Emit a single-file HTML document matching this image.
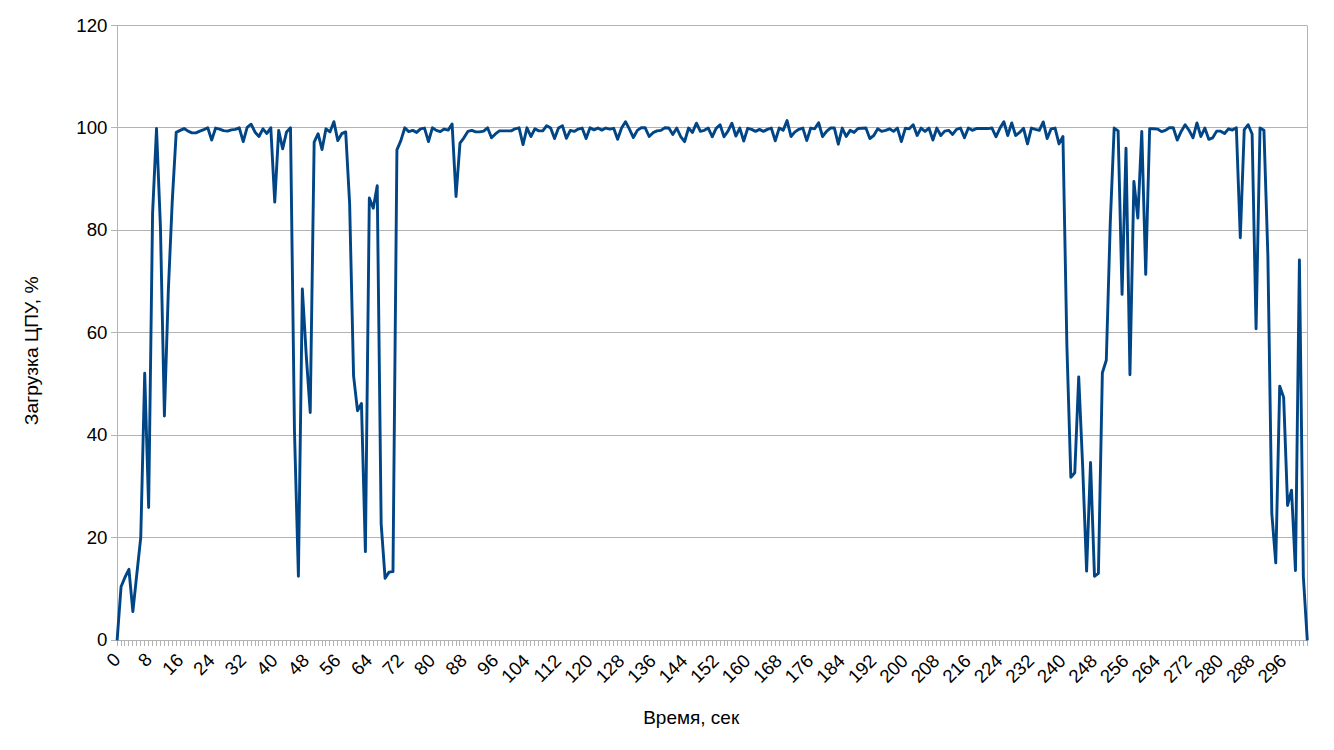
<!DOCTYPE html>
<html><head><meta charset="utf-8"><title>chart</title>
<style>
html,body{margin:0;padding:0;background:#fff;}
body{width:1334px;height:750px;overflow:hidden;font-family:"Liberation Sans",sans-serif;}
svg{display:block;}
text{font-family:"Liberation Sans",sans-serif;fill:#000;}
</style></head><body>
<svg width="1334" height="750" viewBox="0 0 1334 750">
<rect x="0" y="0" width="1334" height="750" fill="#ffffff"/>
<g fill="#b3b3b3" shape-rendering="crispEdges">
<rect x="111" y="25" width="1197" height="1"/>
<rect x="111" y="127" width="1197" height="1"/>
<rect x="111" y="230" width="1197" height="1"/>
<rect x="111" y="332" width="1197" height="1"/>
<rect x="111" y="435" width="1197" height="1"/>
<rect x="111" y="537" width="1197" height="1"/>
<rect x="111" y="640" width="1197" height="1"/>
<rect x="117" y="25" width="1" height="616"/>
<rect x="1307" y="25" width="1" height="616"/>
<rect x="117" y="640" width="1" height="6"/><rect x="121" y="640" width="1" height="6"/><rect x="124" y="640" width="1" height="6"/><rect x="128" y="640" width="1" height="6"/><rect x="132" y="640" width="1" height="6"/><rect x="136" y="640" width="1" height="6"/><rect x="140" y="640" width="1" height="6"/><rect x="144" y="640" width="1" height="6"/><rect x="148" y="640" width="1" height="6"/><rect x="152" y="640" width="1" height="6"/><rect x="156" y="640" width="1" height="6"/><rect x="160" y="640" width="1" height="6"/><rect x="164" y="640" width="1" height="6"/><rect x="168" y="640" width="1" height="6"/><rect x="172" y="640" width="1" height="6"/><rect x="176" y="640" width="1" height="6"/><rect x="180" y="640" width="1" height="6"/><rect x="184" y="640" width="1" height="6"/><rect x="188" y="640" width="1" height="6"/><rect x="191" y="640" width="1" height="6"/><rect x="195" y="640" width="1" height="6"/><rect x="199" y="640" width="1" height="6"/><rect x="203" y="640" width="1" height="6"/><rect x="207" y="640" width="1" height="6"/><rect x="211" y="640" width="1" height="6"/><rect x="215" y="640" width="1" height="6"/><rect x="219" y="640" width="1" height="6"/><rect x="223" y="640" width="1" height="6"/><rect x="227" y="640" width="1" height="6"/><rect x="231" y="640" width="1" height="6"/><rect x="235" y="640" width="1" height="6"/><rect x="239" y="640" width="1" height="6"/><rect x="243" y="640" width="1" height="6"/><rect x="247" y="640" width="1" height="6"/><rect x="251" y="640" width="1" height="6"/><rect x="255" y="640" width="1" height="6"/><rect x="258" y="640" width="1" height="6"/><rect x="262" y="640" width="1" height="6"/><rect x="266" y="640" width="1" height="6"/><rect x="270" y="640" width="1" height="6"/><rect x="274" y="640" width="1" height="6"/><rect x="278" y="640" width="1" height="6"/><rect x="282" y="640" width="1" height="6"/><rect x="286" y="640" width="1" height="6"/><rect x="290" y="640" width="1" height="6"/><rect x="294" y="640" width="1" height="6"/><rect x="298" y="640" width="1" height="6"/><rect x="302" y="640" width="1" height="6"/><rect x="306" y="640" width="1" height="6"/><rect x="310" y="640" width="1" height="6"/><rect x="314" y="640" width="1" height="6"/><rect x="318" y="640" width="1" height="6"/><rect x="322" y="640" width="1" height="6"/><rect x="325" y="640" width="1" height="6"/><rect x="329" y="640" width="1" height="6"/><rect x="333" y="640" width="1" height="6"/><rect x="337" y="640" width="1" height="6"/><rect x="341" y="640" width="1" height="6"/><rect x="345" y="640" width="1" height="6"/><rect x="349" y="640" width="1" height="6"/><rect x="353" y="640" width="1" height="6"/><rect x="357" y="640" width="1" height="6"/><rect x="361" y="640" width="1" height="6"/><rect x="365" y="640" width="1" height="6"/><rect x="369" y="640" width="1" height="6"/><rect x="373" y="640" width="1" height="6"/><rect x="377" y="640" width="1" height="6"/><rect x="381" y="640" width="1" height="6"/><rect x="385" y="640" width="1" height="6"/><rect x="389" y="640" width="1" height="6"/><rect x="392" y="640" width="1" height="6"/><rect x="396" y="640" width="1" height="6"/><rect x="400" y="640" width="1" height="6"/><rect x="404" y="640" width="1" height="6"/><rect x="408" y="640" width="1" height="6"/><rect x="412" y="640" width="1" height="6"/><rect x="416" y="640" width="1" height="6"/><rect x="420" y="640" width="1" height="6"/><rect x="424" y="640" width="1" height="6"/><rect x="428" y="640" width="1" height="6"/><rect x="432" y="640" width="1" height="6"/><rect x="436" y="640" width="1" height="6"/><rect x="440" y="640" width="1" height="6"/><rect x="444" y="640" width="1" height="6"/><rect x="448" y="640" width="1" height="6"/><rect x="452" y="640" width="1" height="6"/><rect x="456" y="640" width="1" height="6"/><rect x="459" y="640" width="1" height="6"/><rect x="463" y="640" width="1" height="6"/><rect x="467" y="640" width="1" height="6"/><rect x="471" y="640" width="1" height="6"/><rect x="475" y="640" width="1" height="6"/><rect x="479" y="640" width="1" height="6"/><rect x="483" y="640" width="1" height="6"/><rect x="487" y="640" width="1" height="6"/><rect x="491" y="640" width="1" height="6"/><rect x="495" y="640" width="1" height="6"/><rect x="499" y="640" width="1" height="6"/><rect x="503" y="640" width="1" height="6"/><rect x="507" y="640" width="1" height="6"/><rect x="511" y="640" width="1" height="6"/><rect x="515" y="640" width="1" height="6"/><rect x="519" y="640" width="1" height="6"/><rect x="523" y="640" width="1" height="6"/><rect x="526" y="640" width="1" height="6"/><rect x="530" y="640" width="1" height="6"/><rect x="534" y="640" width="1" height="6"/><rect x="538" y="640" width="1" height="6"/><rect x="542" y="640" width="1" height="6"/><rect x="546" y="640" width="1" height="6"/><rect x="550" y="640" width="1" height="6"/><rect x="554" y="640" width="1" height="6"/><rect x="558" y="640" width="1" height="6"/><rect x="562" y="640" width="1" height="6"/><rect x="566" y="640" width="1" height="6"/><rect x="570" y="640" width="1" height="6"/><rect x="574" y="640" width="1" height="6"/><rect x="578" y="640" width="1" height="6"/><rect x="582" y="640" width="1" height="6"/><rect x="586" y="640" width="1" height="6"/><rect x="590" y="640" width="1" height="6"/><rect x="593" y="640" width="1" height="6"/><rect x="597" y="640" width="1" height="6"/><rect x="601" y="640" width="1" height="6"/><rect x="605" y="640" width="1" height="6"/><rect x="609" y="640" width="1" height="6"/><rect x="613" y="640" width="1" height="6"/><rect x="617" y="640" width="1" height="6"/><rect x="621" y="640" width="1" height="6"/><rect x="625" y="640" width="1" height="6"/><rect x="629" y="640" width="1" height="6"/><rect x="633" y="640" width="1" height="6"/><rect x="637" y="640" width="1" height="6"/><rect x="641" y="640" width="1" height="6"/><rect x="645" y="640" width="1" height="6"/><rect x="649" y="640" width="1" height="6"/><rect x="653" y="640" width="1" height="6"/><rect x="657" y="640" width="1" height="6"/><rect x="660" y="640" width="1" height="6"/><rect x="664" y="640" width="1" height="6"/><rect x="668" y="640" width="1" height="6"/><rect x="672" y="640" width="1" height="6"/><rect x="676" y="640" width="1" height="6"/><rect x="680" y="640" width="1" height="6"/><rect x="684" y="640" width="1" height="6"/><rect x="688" y="640" width="1" height="6"/><rect x="692" y="640" width="1" height="6"/><rect x="696" y="640" width="1" height="6"/><rect x="700" y="640" width="1" height="6"/><rect x="704" y="640" width="1" height="6"/><rect x="708" y="640" width="1" height="6"/><rect x="712" y="640" width="1" height="6"/><rect x="716" y="640" width="1" height="6"/><rect x="720" y="640" width="1" height="6"/><rect x="724" y="640" width="1" height="6"/><rect x="727" y="640" width="1" height="6"/><rect x="731" y="640" width="1" height="6"/><rect x="735" y="640" width="1" height="6"/><rect x="739" y="640" width="1" height="6"/><rect x="743" y="640" width="1" height="6"/><rect x="747" y="640" width="1" height="6"/><rect x="751" y="640" width="1" height="6"/><rect x="755" y="640" width="1" height="6"/><rect x="759" y="640" width="1" height="6"/><rect x="763" y="640" width="1" height="6"/><rect x="767" y="640" width="1" height="6"/><rect x="771" y="640" width="1" height="6"/><rect x="775" y="640" width="1" height="6"/><rect x="779" y="640" width="1" height="6"/><rect x="783" y="640" width="1" height="6"/><rect x="787" y="640" width="1" height="6"/><rect x="791" y="640" width="1" height="6"/><rect x="794" y="640" width="1" height="6"/><rect x="798" y="640" width="1" height="6"/><rect x="802" y="640" width="1" height="6"/><rect x="806" y="640" width="1" height="6"/><rect x="810" y="640" width="1" height="6"/><rect x="814" y="640" width="1" height="6"/><rect x="818" y="640" width="1" height="6"/><rect x="822" y="640" width="1" height="6"/><rect x="826" y="640" width="1" height="6"/><rect x="830" y="640" width="1" height="6"/><rect x="834" y="640" width="1" height="6"/><rect x="838" y="640" width="1" height="6"/><rect x="842" y="640" width="1" height="6"/><rect x="846" y="640" width="1" height="6"/><rect x="850" y="640" width="1" height="6"/><rect x="854" y="640" width="1" height="6"/><rect x="858" y="640" width="1" height="6"/><rect x="861" y="640" width="1" height="6"/><rect x="865" y="640" width="1" height="6"/><rect x="869" y="640" width="1" height="6"/><rect x="873" y="640" width="1" height="6"/><rect x="877" y="640" width="1" height="6"/><rect x="881" y="640" width="1" height="6"/><rect x="885" y="640" width="1" height="6"/><rect x="889" y="640" width="1" height="6"/><rect x="893" y="640" width="1" height="6"/><rect x="897" y="640" width="1" height="6"/><rect x="901" y="640" width="1" height="6"/><rect x="905" y="640" width="1" height="6"/><rect x="909" y="640" width="1" height="6"/><rect x="913" y="640" width="1" height="6"/><rect x="917" y="640" width="1" height="6"/><rect x="921" y="640" width="1" height="6"/><rect x="925" y="640" width="1" height="6"/><rect x="928" y="640" width="1" height="6"/><rect x="932" y="640" width="1" height="6"/><rect x="936" y="640" width="1" height="6"/><rect x="940" y="640" width="1" height="6"/><rect x="944" y="640" width="1" height="6"/><rect x="948" y="640" width="1" height="6"/><rect x="952" y="640" width="1" height="6"/><rect x="956" y="640" width="1" height="6"/><rect x="960" y="640" width="1" height="6"/><rect x="964" y="640" width="1" height="6"/><rect x="968" y="640" width="1" height="6"/><rect x="972" y="640" width="1" height="6"/><rect x="976" y="640" width="1" height="6"/><rect x="980" y="640" width="1" height="6"/><rect x="984" y="640" width="1" height="6"/><rect x="988" y="640" width="1" height="6"/><rect x="992" y="640" width="1" height="6"/><rect x="995" y="640" width="1" height="6"/><rect x="999" y="640" width="1" height="6"/><rect x="1003" y="640" width="1" height="6"/><rect x="1007" y="640" width="1" height="6"/><rect x="1011" y="640" width="1" height="6"/><rect x="1015" y="640" width="1" height="6"/><rect x="1019" y="640" width="1" height="6"/><rect x="1023" y="640" width="1" height="6"/><rect x="1027" y="640" width="1" height="6"/><rect x="1031" y="640" width="1" height="6"/><rect x="1035" y="640" width="1" height="6"/><rect x="1039" y="640" width="1" height="6"/><rect x="1043" y="640" width="1" height="6"/><rect x="1047" y="640" width="1" height="6"/><rect x="1051" y="640" width="1" height="6"/><rect x="1055" y="640" width="1" height="6"/><rect x="1059" y="640" width="1" height="6"/><rect x="1062" y="640" width="1" height="6"/><rect x="1066" y="640" width="1" height="6"/><rect x="1070" y="640" width="1" height="6"/><rect x="1074" y="640" width="1" height="6"/><rect x="1078" y="640" width="1" height="6"/><rect x="1082" y="640" width="1" height="6"/><rect x="1086" y="640" width="1" height="6"/><rect x="1090" y="640" width="1" height="6"/><rect x="1094" y="640" width="1" height="6"/><rect x="1098" y="640" width="1" height="6"/><rect x="1102" y="640" width="1" height="6"/><rect x="1106" y="640" width="1" height="6"/><rect x="1110" y="640" width="1" height="6"/><rect x="1114" y="640" width="1" height="6"/><rect x="1118" y="640" width="1" height="6"/><rect x="1122" y="640" width="1" height="6"/><rect x="1126" y="640" width="1" height="6"/><rect x="1129" y="640" width="1" height="6"/><rect x="1133" y="640" width="1" height="6"/><rect x="1137" y="640" width="1" height="6"/><rect x="1141" y="640" width="1" height="6"/><rect x="1145" y="640" width="1" height="6"/><rect x="1149" y="640" width="1" height="6"/><rect x="1153" y="640" width="1" height="6"/><rect x="1157" y="640" width="1" height="6"/><rect x="1161" y="640" width="1" height="6"/><rect x="1165" y="640" width="1" height="6"/><rect x="1169" y="640" width="1" height="6"/><rect x="1173" y="640" width="1" height="6"/><rect x="1177" y="640" width="1" height="6"/><rect x="1181" y="640" width="1" height="6"/><rect x="1185" y="640" width="1" height="6"/><rect x="1189" y="640" width="1" height="6"/><rect x="1193" y="640" width="1" height="6"/><rect x="1196" y="640" width="1" height="6"/><rect x="1200" y="640" width="1" height="6"/><rect x="1204" y="640" width="1" height="6"/><rect x="1208" y="640" width="1" height="6"/><rect x="1212" y="640" width="1" height="6"/><rect x="1216" y="640" width="1" height="6"/><rect x="1220" y="640" width="1" height="6"/><rect x="1224" y="640" width="1" height="6"/><rect x="1228" y="640" width="1" height="6"/><rect x="1232" y="640" width="1" height="6"/><rect x="1236" y="640" width="1" height="6"/><rect x="1240" y="640" width="1" height="6"/><rect x="1244" y="640" width="1" height="6"/><rect x="1248" y="640" width="1" height="6"/><rect x="1252" y="640" width="1" height="6"/><rect x="1256" y="640" width="1" height="6"/><rect x="1259" y="640" width="1" height="6"/><rect x="1263" y="640" width="1" height="6"/><rect x="1267" y="640" width="1" height="6"/><rect x="1271" y="640" width="1" height="6"/><rect x="1275" y="640" width="1" height="6"/><rect x="1279" y="640" width="1" height="6"/><rect x="1283" y="640" width="1" height="6"/><rect x="1287" y="640" width="1" height="6"/><rect x="1291" y="640" width="1" height="6"/><rect x="1295" y="640" width="1" height="6"/><rect x="1299" y="640" width="1" height="6"/><rect x="1303" y="640" width="1" height="6"/><rect x="1307" y="640" width="1" height="6"/>
</g>
<rect x="1307" y="25" width="1" height="1" fill="#ffffff" fill-opacity="0.5" shape-rendering="crispEdges"/>
<text x="107.5" y="32" font-size="18.67" text-anchor="end">120</text>
<text x="107.5" y="134" font-size="18.67" text-anchor="end">100</text>
<text x="107.5" y="236" font-size="18.67" text-anchor="end">80</text>
<text x="107.5" y="339" font-size="18.67" text-anchor="end">60</text>
<text x="107.5" y="441" font-size="18.67" text-anchor="end">40</text>
<text x="107.5" y="544" font-size="18.67" text-anchor="end">20</text>
<text x="107.5" y="646" font-size="18.67" text-anchor="end">0</text>
<text transform="translate(121.5,660.70) rotate(-45)" font-size="18.67" text-anchor="end">0</text>
<text transform="translate(153.0,660.70) rotate(-45)" font-size="18.67" text-anchor="end">8</text>
<text transform="translate(184.7,661.45) rotate(-45)" font-size="18.67" text-anchor="end">16</text>
<text transform="translate(215.8,661.70) rotate(-45)" font-size="18.67" text-anchor="end">24</text>
<text transform="translate(247.3,661.70) rotate(-45)" font-size="18.67" text-anchor="end">32</text>
<text transform="translate(278.8,661.70) rotate(-45)" font-size="18.67" text-anchor="end">40</text>
<text transform="translate(310.3,661.70) rotate(-45)" font-size="18.67" text-anchor="end">48</text>
<text transform="translate(341.9,661.70) rotate(-45)" font-size="18.67" text-anchor="end">56</text>
<text transform="translate(373.4,661.70) rotate(-45)" font-size="18.67" text-anchor="end">64</text>
<text transform="translate(404.9,661.70) rotate(-45)" font-size="18.67" text-anchor="end">72</text>
<text transform="translate(436.4,661.70) rotate(-45)" font-size="18.67" text-anchor="end">80</text>
<text transform="translate(468.0,661.70) rotate(-45)" font-size="18.67" text-anchor="end">88</text>
<text transform="translate(499.5,661.70) rotate(-45)" font-size="18.67" text-anchor="end">96</text>
<text transform="translate(530.9,662.10) rotate(-45)" font-size="18.67" text-anchor="end">104</text>
<text transform="translate(562.4,662.10) rotate(-45)" font-size="18.67" text-anchor="end">112</text>
<text transform="translate(593.9,662.10) rotate(-45)" font-size="18.67" text-anchor="end">120</text>
<text transform="translate(625.5,662.10) rotate(-45)" font-size="18.67" text-anchor="end">128</text>
<text transform="translate(657.0,662.10) rotate(-45)" font-size="18.67" text-anchor="end">136</text>
<text transform="translate(688.5,662.10) rotate(-45)" font-size="18.67" text-anchor="end">144</text>
<text transform="translate(720.0,662.10) rotate(-45)" font-size="18.67" text-anchor="end">152</text>
<text transform="translate(751.6,662.10) rotate(-45)" font-size="18.67" text-anchor="end">160</text>
<text transform="translate(783.1,662.10) rotate(-45)" font-size="18.67" text-anchor="end">168</text>
<text transform="translate(814.6,662.10) rotate(-45)" font-size="18.67" text-anchor="end">176</text>
<text transform="translate(846.1,662.10) rotate(-45)" font-size="18.67" text-anchor="end">184</text>
<text transform="translate(877.7,662.10) rotate(-45)" font-size="18.67" text-anchor="end">192</text>
<text transform="translate(909.2,662.10) rotate(-45)" font-size="18.67" text-anchor="end">200</text>
<text transform="translate(940.7,662.10) rotate(-45)" font-size="18.67" text-anchor="end">208</text>
<text transform="translate(972.2,662.10) rotate(-45)" font-size="18.67" text-anchor="end">216</text>
<text transform="translate(1003.7,662.10) rotate(-45)" font-size="18.67" text-anchor="end">224</text>
<text transform="translate(1035.3,662.10) rotate(-45)" font-size="18.67" text-anchor="end">232</text>
<text transform="translate(1066.8,662.10) rotate(-45)" font-size="18.67" text-anchor="end">240</text>
<text transform="translate(1098.3,662.10) rotate(-45)" font-size="18.67" text-anchor="end">248</text>
<text transform="translate(1129.8,662.10) rotate(-45)" font-size="18.67" text-anchor="end">256</text>
<text transform="translate(1161.4,662.10) rotate(-45)" font-size="18.67" text-anchor="end">264</text>
<text transform="translate(1192.9,662.10) rotate(-45)" font-size="18.67" text-anchor="end">272</text>
<text transform="translate(1224.4,662.10) rotate(-45)" font-size="18.67" text-anchor="end">280</text>
<text transform="translate(1255.9,662.10) rotate(-45)" font-size="18.67" text-anchor="end">288</text>
<text transform="translate(1287.5,662.10) rotate(-45)" font-size="18.67" text-anchor="end">296</text>
<text x="691.2" y="724" font-size="19" text-anchor="middle">Время, сек</text>
<text transform="translate(38.3,350.8) rotate(-90)" font-size="19.25" text-anchor="middle">Загрузка ЦПУ, %</text>
<polyline fill="none" stroke="#004586" stroke-width="2.9" stroke-linejoin="round" stroke-linecap="butt" points="117.11,640.30 121.05,586.79 124.99,577.26 128.93,569.27 132.87,611.60 136.81,574.19 140.76,537.29 144.70,373.29 148.64,507.56 152.58,213.39 156.52,128.57 160.46,227.74 164.40,415.98 168.34,290.26 172.28,200.57 176.22,132.41 180.17,130.36 184.11,128.57 188.05,131.13 191.99,132.92 195.93,132.92 199.87,131.13 203.81,129.59 207.75,127.80 211.69,140.10 215.63,128.06 219.58,129.08 223.52,130.62 227.46,131.13 231.40,129.85 235.34,129.34 239.28,127.80 243.22,141.64 247.16,127.29 251.10,124.21 255.05,132.16 258.99,136.51 262.93,128.82 266.87,133.44 270.81,127.80 274.75,202.11 278.69,130.36 282.63,148.81 286.57,131.90 290.51,127.80 294.45,430.17 298.40,576.24 302.34,288.98 306.28,355.86 310.22,412.49 314.16,142.15 318.10,133.69 322.04,149.58 325.98,128.82 329.92,131.90 333.87,121.65 337.81,140.61 341.75,133.69 345.69,131.90 349.63,203.65 353.57,375.85 357.51,410.70 361.45,403.52 365.39,551.64 369.33,198.01 373.27,208.26 377.22,185.71 381.16,523.96 385.10,578.29 389.04,572.14 392.98,571.62 396.92,149.84 400.86,140.61 404.80,127.80 408.74,131.64 412.69,130.36 416.63,132.41 420.57,128.82 424.51,128.06 428.45,141.64 432.39,127.80 436.33,130.36 440.27,131.64 444.21,129.08 448.15,130.11 452.10,123.96 456.04,196.47 459.98,143.17 463.92,137.79 467.86,131.39 471.80,130.36 475.74,131.90 479.68,131.90 483.62,131.13 487.56,127.80 491.50,137.79 495.45,133.95 499.39,130.87 503.33,130.87 507.27,130.87 511.21,130.87 515.15,128.82 519.09,127.80 523.03,144.71 526.97,127.80 530.91,136.51 534.86,128.82 538.80,130.87 542.74,130.87 546.68,125.75 550.62,128.06 554.56,138.56 558.50,128.06 562.44,125.75 566.38,138.31 570.32,130.36 574.27,131.39 578.21,129.08 582.15,128.06 586.09,138.56 590.03,127.80 593.97,129.85 597.91,128.06 601.85,130.11 605.79,128.06 609.74,129.08 613.68,128.31 617.62,139.33 621.56,128.06 625.50,121.65 629.44,129.08 633.38,137.54 637.32,130.36 641.26,127.80 645.20,127.80 649.14,136.51 653.09,132.67 657.03,130.87 660.97,130.36 664.91,127.80 668.85,128.06 672.79,134.46 676.73,128.06 680.67,136.51 684.61,141.64 688.55,128.06 692.50,132.41 696.44,123.19 700.38,131.39 704.32,130.36 708.26,128.06 712.20,136.77 716.14,128.31 720.08,124.73 724.02,136.77 727.97,131.13 731.91,123.19 735.85,136.00 739.79,128.06 743.73,141.12 747.67,128.31 751.61,129.34 755.55,131.39 759.49,129.34 763.43,131.39 767.38,129.34 771.32,128.06 775.26,140.87 779.20,128.06 783.14,130.36 787.08,120.62 791.02,136.51 794.96,131.90 798.90,129.34 802.84,128.06 806.78,140.61 810.73,128.06 814.67,128.82 818.61,122.67 822.55,136.51 826.49,131.39 830.43,128.06 834.37,128.06 838.31,144.20 842.25,128.06 846.19,136.51 850.14,130.36 854.08,132.41 858.02,128.57 861.96,128.31 865.90,128.06 869.84,138.56 873.78,135.49 877.72,128.82 881.66,131.39 885.61,130.36 889.55,128.82 893.49,131.39 897.43,128.06 901.37,141.64 905.31,128.31 909.25,128.82 913.19,124.73 917.13,135.49 921.07,128.06 925.01,131.39 928.96,128.06 932.90,140.10 936.84,128.06 940.78,135.49 944.72,131.13 948.66,130.36 952.60,134.46 956.54,129.34 960.48,128.06 964.42,137.79 968.37,128.06 972.31,130.36 976.25,128.57 980.19,128.57 984.13,128.57 988.07,128.57 992.01,128.06 995.95,136.77 999.89,128.31 1003.83,121.65 1007.78,135.49 1011.72,122.93 1015.66,135.49 1019.60,132.41 1023.54,128.31 1027.48,143.94 1031.42,128.06 1035.36,129.34 1039.30,130.36 1043.24,121.91 1047.19,138.56 1051.13,128.82 1055.07,128.06 1059.01,143.94 1062.95,136.51 1066.89,345.61 1070.83,477.32 1074.77,472.71 1078.71,376.87 1082.65,466.05 1086.60,571.11 1090.54,462.46 1094.48,576.24 1098.42,573.32 1102.36,372.77 1106.30,360.22 1110.24,223.64 1114.18,128.06 1118.12,130.87 1122.06,294.36 1126.01,148.30 1129.95,374.82 1133.89,181.36 1137.83,218.00 1141.77,131.39 1145.71,274.37 1149.65,128.82 1153.59,128.82 1157.53,129.08 1161.47,131.64 1165.42,130.36 1169.36,127.80 1173.30,127.80 1177.24,140.10 1181.18,131.39 1185.12,124.73 1189.06,130.36 1193.00,137.79 1196.94,122.93 1200.88,136.51 1204.83,128.06 1208.77,139.33 1212.71,137.79 1216.65,131.13 1220.59,131.13 1224.53,133.44 1228.47,128.82 1232.41,130.11 1236.35,127.80 1240.29,237.68 1244.24,129.59 1248.18,124.73 1252.12,133.95 1256.06,328.70 1260.00,128.06 1263.94,130.36 1267.88,255.92 1271.82,513.71 1275.76,562.91 1279.70,386.10 1283.65,397.38 1287.59,505.51 1291.53,490.14 1295.47,570.60 1299.41,260.02 1303.35,576.75 1307.29,640.30"/>
</svg>
</body></html>
